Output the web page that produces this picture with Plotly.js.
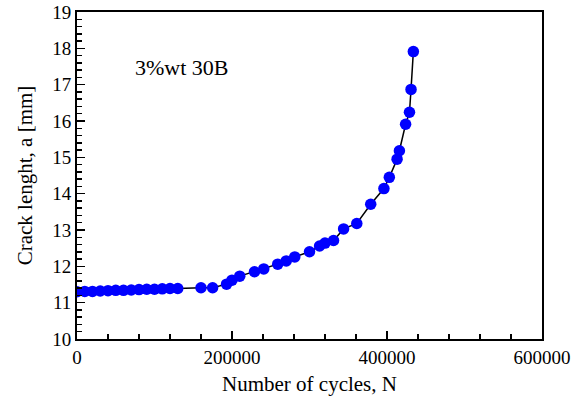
<!DOCTYPE html>
<html>
<head>
<meta charset="utf-8">
<script src="https://cdn.plot.ly/plotly-3.0.1.min.js"></script>
<style>html,body{margin:0;padding:0;background:#fff}#chart{width:572px;height:403px}</style>
</head>
<body>
<div id="chart"></div>
<script>
const cycles = [0, 10000, 20000, 30000, 40000, 50000, 60000, 70000, 80000, 90000, 100000, 110000, 120000, 130000,
  160000, 175000, 193000, 200000, 210000, 229000, 241000, 259000, 270000, 281000, 300000, 313000, 320000, 331000,
  344000, 361000, 379000, 396000, 403000, 413000, 416000, 424000, 429000, 431000, 434000];
const crackLength = [11.30, 11.31, 11.31, 11.32, 11.33, 11.34, 11.34, 11.35, 11.36, 11.37, 11.37, 11.38, 11.39, 11.39,
  11.41, 11.41, 11.51, 11.62, 11.73, 11.85, 11.93, 12.06, 12.15, 12.26, 12.40, 12.56, 12.64, 12.71,
  13.03, 13.18, 13.71, 14.14, 14.45, 14.95, 15.18, 15.91, 16.24, 16.87, 17.91];
const seriesLabel = "3%wt 30B";
const xTickVals = [0, 200000, 400000, 600000];
const xTickText = ["0", "200000", "400000", "600000"];
const yTickVals = [10, 11, 12, 13, 14, 15, 16, 17, 18, 19];

const font = "Liberation Serif, Times New Roman, serif";
const axisCommon = {
  showline: true, linecolor: "#000", linewidth: 2, mirror: true,
  ticks: "inside", ticklen: 8, tickwidth: 1.5, tickcolor: "#000",
  showgrid: false, zeroline: false,
  tickfont: {family: font, size: 19, color: "#000"}
};

const trace = {
  x: cycles, y: crackLength, type: "scatter", mode: "lines+markers",
  line: {color: "#000", width: 1.5},
  marker: {color: "#0000ff", size: 11.5},
  showlegend: false
};

const layout = {
  width: 572, height: 403,
  margin: {l: 77, r: 30, t: 12, b: 64},
  paper_bgcolor: "#fff", plot_bgcolor: "#fff",
  font: {family: font, color: "#000"},
  xaxis: Object.assign({}, axisCommon, {
    range: [0, 600000], tickmode: "array", tickvals: xTickVals, ticktext: xTickText,
    minor: {dtick: 40000, tick0: 0, ticks: "inside", ticklen: 5, tickwidth: 1.5, tickcolor: "#000"},
    title: {text: "Number of cycles, N", font: {family: font, size: 21, color: "#000"}, standoff: 10}
  }),
  yaxis: Object.assign({}, axisCommon, {
    range: [10, 19], tickmode: "array", tickvals: yTickVals,
    minor: {dtick: 0.2, tick0: 10, ticks: "inside", ticklen: 5, tickwidth: 1.5, tickcolor: "#000"},
    title: {text: "Crack lenght, a [mm]", font: {family: font, size: 21, color: "#000"}, standoff: 14}
  }),
  annotations: [{
    x: 72000, y: 17.46, xref: "x", yref: "y", xanchor: "left", yanchor: "middle",
    text: seriesLabel, showarrow: false, font: {family: font, size: 22, color: "#000"}
  }]
};

Plotly.newPlot("chart", [trace], layout, {displayModeBar: false, staticPlot: true});
</script>
</body>
</html>
